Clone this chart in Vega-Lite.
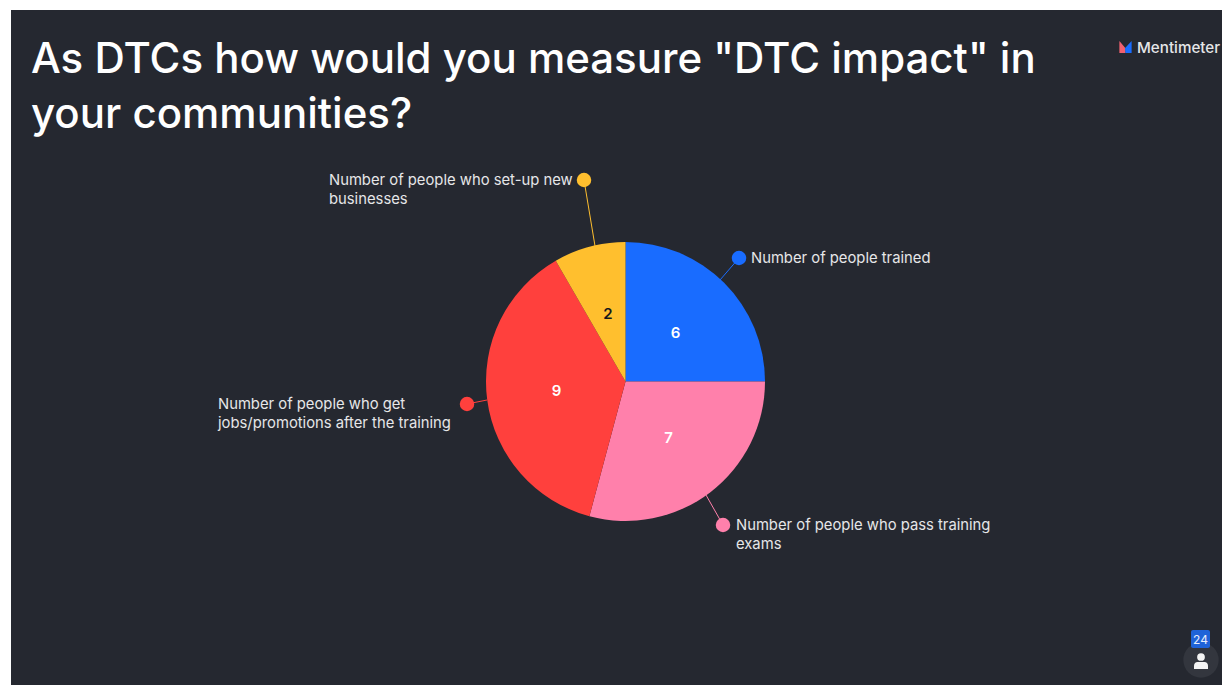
{
"$schema":"https://vega.github.io/schema/vega-lite/v6.json",
"width":1222,"height":687,"padding":0,"autosize":{"type":"fit","contains":"padding"},
"background":"#ffffff","view":{"stroke":null},
"datasets":{
"slices":[
{"answer":"Number of people trained","votes":6,"rank":1,"ink":"#ffffff"},
{"answer":"Number of people who pass training exams","votes":7,"rank":2,"ink":"#ffffff"},
{"answer":"Number of people who get jobs/promotions after the training","votes":9,"rank":3,"ink":"#ffffff"},
{"answer":"Number of people who set-up new businesses","votes":2,"rank":4,"ink":"#15171c"}
],
"leaders":[
{"answer":"Number of people trained","x":739,"y":258,"x2":720,"y2":280},
{"answer":"Number of people who pass training exams","x":723,"y":525,"x2":706,"y2":495},
{"answer":"Number of people who get jobs/promotions after the training","x":467,"y":404,"x2":487,"y2":400},
{"answer":"Number of people who set-up new businesses","x":584,"y":180,"x2":595,"y2":246}
],
"labels":[
{"line":"Number of people trained","x":751,"y":259},
{"line":"Number of people who pass training","x":736,"y":526},
{"line":"exams","x":736,"y":545},
{"line":"Number of people who get","x":218,"y":405},
{"line":"jobs/promotions after the training","x":218,"y":424},
{"line":"Number of people who set-up new","x":329,"y":181},
{"line":"businesses","x":329,"y":200}
],
"heading":[
{"line":"As DTCs how would you measure \"DTC impact\" in","x":31,"y":60},
{"line":"your communities?","x":31,"y":115}
]
},
"layer":[
{"data":{"values":[{"x":11,"x2":1222,"y":10,"y2":685}]},
"mark":{"type":"rect","color":"#252830"},
"encoding":{"x":{"field":"x","type":"quantitative","scale":{"domain":[0,1222],"nice":false,"zero":false},"axis":null},"x2":{"field":"x2"},"y":{"field":"y","type":"quantitative","scale":{"domain":[687,0],"nice":false,"zero":false},"axis":null},"y2":{"field":"y2"}}},
{"data":{"name":"leaders"},
"mark":{"type":"rule","strokeWidth":1},
"encoding":{"x":{"field":"x","type":"quantitative"},"x2":{"field":"x2"},"y":{"field":"y","type":"quantitative"},"y2":{"field":"y2"},"color":{"field":"answer","type":"nominal","legend":null}}},
{"data":{"name":"slices"},
"mark":{"type":"arc","outerRadius":139.5},
"encoding":{"x":{"datum":625.5,"type":"quantitative"},"y":{"datum":381.5,"type":"quantitative"},
"theta":{"field":"votes","type":"quantitative","stack":true},
"order":{"field":"rank"},
"color":{"field":"answer","type":"nominal","legend":null,"scale":{"domain":["Number of people trained","Number of people who pass training exams","Number of people who get jobs/promotions after the training","Number of people who set-up new businesses"],"range":["#196cff","#ff80ab","#ff403d","#ffbf2e"]}}}},
{"data":{"name":"slices"},
"mark":{"type":"text","radius":70,"fontSize":15,"fontWeight":600,"font":"Inter"},
"encoding":{"x":{"datum":626,"type":"quantitative"},"y":{"datum":382,"type":"quantitative"},
"theta":{"field":"votes","type":"quantitative","stack":true},
"order":{"field":"rank"},
"text":{"field":"votes","type":"quantitative"},
"color":{"field":"ink","type":"nominal","scale":null}}},
{"data":{"name":"leaders"},
"mark":{"type":"point","filled":true,"size":210,"opacity":1},
"encoding":{"x":{"field":"x","type":"quantitative"},"y":{"field":"y","type":"quantitative"},"color":{"field":"answer","type":"nominal","legend":null}}},
{"data":{"name":"labels"},
"mark":{"type":"text","align":"left","baseline":"middle","font":"Inter","fontSize":14.8,"color":"#e6e6e8"},
"encoding":{"x":{"field":"x","type":"quantitative"},"y":{"field":"y","type":"quantitative"},"text":{"field":"line"}}},
{"data":{"name":"heading"},
"mark":{"type":"text","align":"left","baseline":"middle","font":"Inter","fontSize":42,"fontWeight":500,"color":"#ffffff"},
"encoding":{"x":{"field":"x","type":"quantitative"},"y":{"field":"y","type":"quantitative"},"text":{"field":"line"}}},
{"data":{"values":[{"line":"Mentimeter","x":1137,"y":48}]},
"mark":{"type":"text","align":"left","baseline":"middle","font":"Inter","fontSize":15.2,"fontWeight":500,"color":"#e6e6e8"},
"encoding":{"x":{"field":"x","type":"quantitative"},"y":{"field":"y","type":"quantitative"},"text":{"field":"line"}}},
{"data":{"values":[{"part":"left","x":1125.5,"y":47},{"part":"right","x":1125.5,"y":47}]},
"mark":{"type":"point","filled":true,"size":150,"opacity":1},
"encoding":{"x":{"field":"x","type":"quantitative"},"y":{"field":"y","type":"quantitative"},
"shape":{"field":"part","type":"nominal","legend":null,"scale":{"domain":["left","right"],"range":["M-1,-1L0,0.2L0,1L-1,1Z","M1,-1L1,1L0,1L-0.1,0.2Z"]}},
"fill":{"field":"part","type":"nominal","legend":null,"scale":{"domain":["left","right"],"range":["#f2606f","#196cff"]}}}},
{"data":{"values":[{"x":1201,"y":660}]},
"mark":{"type":"circle","size":1250,"color":"#33363e","opacity":1},
"encoding":{"x":{"field":"x","type":"quantitative"},"y":{"field":"y","type":"quantitative"}}},
{"data":{"values":[{"x":1191,"x2":1210,"y":630,"y2":648}]},
"mark":{"type":"rect","color":"#1f63d8","cornerRadius":2},
"encoding":{"x":{"field":"x","type":"quantitative"},"x2":{"field":"x2"},"y":{"field":"y","type":"quantitative"},"y2":{"field":"y2"}}},
{"data":{"values":[{"n":"24","x":1200.5,"y":639.5}]},
"mark":{"type":"text","font":"Inter","fontSize":12,"color":"#e8eefc","baseline":"middle"},
"encoding":{"x":{"field":"x","type":"quantitative"},"y":{"field":"y","type":"quantitative"},"text":{"field":"n"}}},
{"data":{"values":[{"x":1201,"y":657}]},
"mark":{"type":"circle","size":60,"color":"#f4f4f4","opacity":1},
"encoding":{"x":{"field":"x","type":"quantitative"},"y":{"field":"y","type":"quantitative"}}},
{"data":{"values":[{"x":1194,"x2":1208,"y":662,"y2":669}]},
"mark":{"type":"rect","color":"#f4f4f4","cornerRadiusTopLeft":5,"cornerRadiusTopRight":5},
"encoding":{"x":{"field":"x","type":"quantitative"},"x2":{"field":"x2"},"y":{"field":"y","type":"quantitative"},"y2":{"field":"y2"}}}
]
}
